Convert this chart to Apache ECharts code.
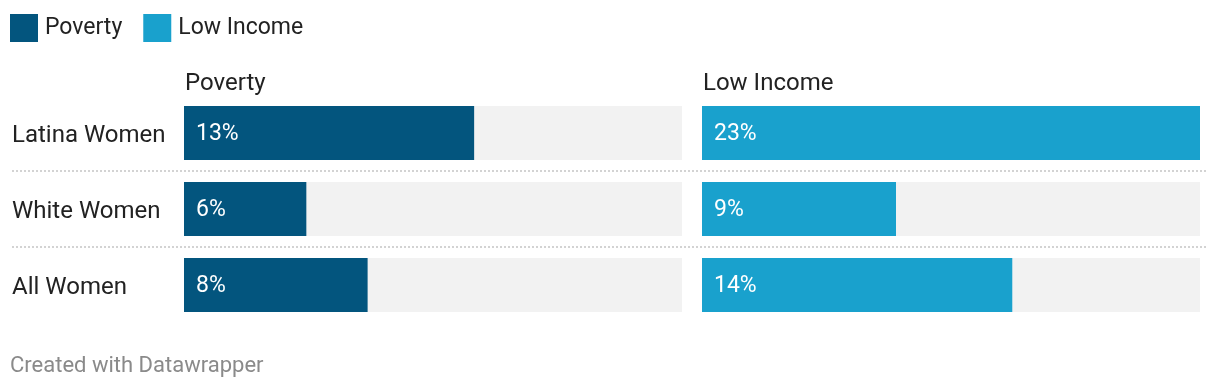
<!DOCTYPE html>
<html>
<head>
<meta charset="utf-8">
<script src="https://cdn.jsdelivr.net/npm/echarts@6/dist/echarts.min.js"></script>
<style>
html,body{margin:0;padding:0;background:#fff;}
#chart{width:1220px;height:390px;}
</style>
</head>
<body>
<div id="chart"></div>
<script>
const categories = ['Latina Women', 'White Women', 'All Women'];
const povertyValues = [13.4, 5.65, 8.48];
const lowIncomeValues = [23.0, 8.96, 14.33];
const scaleMax = 23.0;

const FONT = 'Roboto, "Noto Sans", sans-serif';
const TEXT = '#222222';
const POV = '#03557e';
const LOW = '#19a1cd';

const chart = echarts.init(document.getElementById('chart'), null, {renderer: 'canvas'});

const barLabel = {
  show: true,
  position: 'insideLeft',
  distance: 12,
  color: '#ffffff',
  fontFamily: FONT,
  fontSize: 23,
  formatter: p => '{v|' + Math.round(p.value) + '%}',
  rich: {v: {color: '#ffffff', fontFamily: FONT, fontSize: 23, padding: [3, 0, 0, 0]}}
};

chart.setOption({
  animation: false,
  textStyle: {fontFamily: FONT},
  title: [
    {text: 'Poverty', left: 185, top: 72, padding: 0, textStyle: {fontFamily: FONT, fontSize: 24, fontWeight: 'normal', color: TEXT}},
    {text: 'Low Income', left: 703, top: 72, padding: 0, textStyle: {fontFamily: FONT, fontSize: 24, fontWeight: 'normal', color: TEXT}},
    {text: 'Created with Datawrapper', left: 10, top: 355, padding: 0, textStyle: {fontFamily: FONT, fontSize: 22, fontWeight: 'normal', color: '#8a8a8a'}}
  ],
  legend: {
    left: 10, top: 14, padding: 0,
    itemWidth: 28, itemHeight: 28, itemGap: 21,
    icon: 'rect',
    textStyle: {fontFamily: FONT, fontSize: 23, color: TEXT, padding: [0, 0, 0, 2]},
    data: ['Poverty', 'Low Income']
  },
  grid: [
    {left: 184, width: 498, top: 95, height: 228},
    {left: 702, width: 498, top: 95, height: 228},
    {left: 12, right: 12, top: 95, height: 228}
  ],
  xAxis: [
    {gridIndex: 0, type: 'value', min: 0, max: scaleMax, show: false},
    {gridIndex: 1, type: 'value', min: 0, max: scaleMax, show: false},
    {gridIndex: 2, type: 'value', min: 0, max: 1, show: false}
  ],
  yAxis: [
    {gridIndex: 0, type: 'category', inverse: true, data: categories,
     axisLine: {show: false}, axisTick: {show: false}, splitLine: {show: false},
     axisLabel: {show: true, align: 'left', margin: 172, fontFamily: FONT, fontSize: 24, color: TEXT,
       formatter: v => '{c|' + v + '}',
       rich: {c: {fontFamily: FONT, fontSize: 24, color: TEXT, padding: [6, 0, 0, 0]}}}},
    {gridIndex: 1, type: 'category', inverse: true, data: categories,
     axisLine: {show: false}, axisTick: {show: false}, splitLine: {show: false}, axisLabel: {show: false}},
    {gridIndex: 2, type: 'category', inverse: true, data: categories,
     axisLine: {show: false}, axisTick: {show: false}, axisLabel: {show: false},
     splitLine: {show: true, lineStyle: {color: ['rgba(0,0,0,0)', '#d3d3d3', '#d3d3d3', 'rgba(0,0,0,0)'], width: 2, type: [2, 2]}}}
  ],
  series: [
    {name: 'Poverty', type: 'bar', xAxisIndex: 0, yAxisIndex: 0, data: povertyValues,
     barWidth: 54, itemStyle: {color: POV}, showBackground: true, backgroundStyle: {color: '#f2f2f2'},
     label: barLabel, z: 3},
    {name: 'Low Income', type: 'bar', xAxisIndex: 1, yAxisIndex: 1, data: lowIncomeValues,
     barWidth: 54, itemStyle: {color: LOW}, showBackground: true, backgroundStyle: {color: '#f2f2f2'},
     label: barLabel, z: 3}
  ]
});
</script>
</body>
</html>
